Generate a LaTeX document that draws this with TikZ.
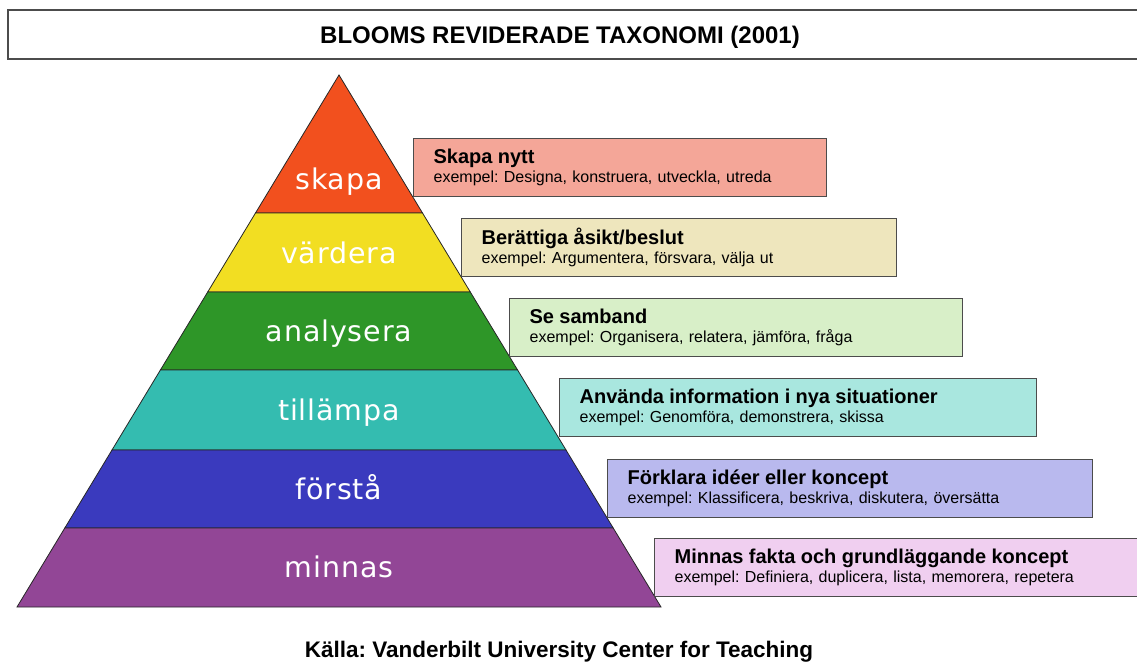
\documentclass[tikz,border=0pt]{standalone}
\usepackage{fontspec}
\setmainfont{Liberation Sans}
\newfontfamily\layerfont[LetterSpace=3]{DejaVu Sans}
\frenchspacing

\definecolor{skapaRed}{HTML}{F2501E}
\definecolor{varderaYellow}{HTML}{F2DE22}
\definecolor{analysGreen}{HTML}{2E9628}
\definecolor{tillampTeal}{HTML}{34BCB0}
\definecolor{forstaBlue}{HTML}{3A3ABE}
\definecolor{minnasPurple}{HTML}{924696}
\definecolor{boxRed}{HTML}{F4A698}
\definecolor{boxYellow}{HTML}{EEE6BD}
\definecolor{boxGreen}{HTML}{D8EFC8}
\definecolor{boxTeal}{HTML}{A9E7DF}
\definecolor{boxBlue}{HTML}{B9B9EE}
\definecolor{boxPurple}{HTML}{F0CFF0}

\newcommand{\boxhead}[1]{{\fontsize{20}{22}\selectfont\bfseries #1}}

\begin{document}
\begin{tikzpicture}[x=1pt,y=-1pt,
  layer/.style={draw=black!85,line width=0.8pt,fill=#1},
  layerlabel/.style={text=white,anchor=base,font=\layerfont\fontsize{28.5}{30}\selectfont},
  infobox/.style={draw=black!70,line width=1.3pt,fill=#1,anchor=north west,align=left,
    inner xsep=20pt,inner ysep=0pt,minimum height=58pt,font=\fontsize{16}{19}\selectfont}]
\useasboundingbox (0,0) rectangle (1137,661);

% title
\draw[draw=black!70,line width=1.3pt] (8,10) rectangle (1140,59);
\draw (560,44) node[anchor=base,font=\fontsize{24}{26}\selectfont\bfseries] (title) {BLOOMS REVIDERADE TAXONOMI (2001)};

% pyramid
\draw[layer=skapaRed] (339,75) -- (422.5,213) -- (255.5,213) -- cycle;
\draw[layer=varderaYellow] (255.5,213) -- (422.5,213) -- (470.3,292) -- (207.7,292) -- cycle;
\draw[layer=analysGreen] (207.7,292) -- (470.3,292) -- (517.6,370) -- (160.4,370) -- cycle;
\draw[layer=tillampTeal] (160.4,370) -- (517.6,370) -- (566,450) -- (112,450) -- cycle;
\draw[layer=forstaBlue] (112,450) -- (566,450) -- (613.2,528) -- (64.8,528) -- cycle;
\draw[layer=minnasPurple] (64.8,528) -- (613.2,528) -- (661,607) -- (17,607) -- cycle;

\draw (339,189) node[layerlabel] (skapa) {skapa};
\draw (339,263) node[layerlabel] (vardera) {värdera};
\draw (339,341) node[layerlabel] (analysera) {analysera};
\draw (339,420) node[layerlabel] (tillampa) {tillämpa};
\draw (339,499) node[layerlabel] (forsta) {förstå};
\draw (339,577) node[layerlabel] (minnas) {minnas};

% boxes
\draw (413,138) node[infobox=boxRed,text width=373pt] (skapabox)
  {\boxhead{Skapa nytt}\\exempel: Designa, konstruera, utveckla, utreda};
\draw (461,218) node[infobox=boxYellow,text width=395pt] (varderabox)
  {\boxhead{Berättiga åsikt/beslut}\\exempel: Argumentera, försvara, välja ut};
\draw (509,298) node[infobox=boxGreen,text width=413pt] (analysbox)
  {\boxhead{Se samband}\\exempel: Organisera, relatera, jämföra, fråga};
\draw (559,378) node[infobox=boxTeal,text width=437pt] (tillampbox)
  {\boxhead{Använda information i nya situationer}\\exempel: Genomföra, demonstrera, skissa};
\draw (607,459) node[infobox=boxBlue,text width=445pt] (forstabox)
  {\boxhead{Förklara idéer eller koncept}\\exempel: Klassificera, beskriva, diskutera, översätta};
\draw (654,538) node[infobox=boxPurple,text width=446pt] (minnasbox)
  {\boxhead{Minnas fakta och grundläggande koncept}\\exempel: Definiera, duplicera, lista, memorera, repetera};

% source
\draw (559,657) node[anchor=base,font=\fontsize{22.5}{24}\selectfont\bfseries] (source) {Källa: Vanderbilt University Center for Teaching};
\end{tikzpicture}
\end{document}
